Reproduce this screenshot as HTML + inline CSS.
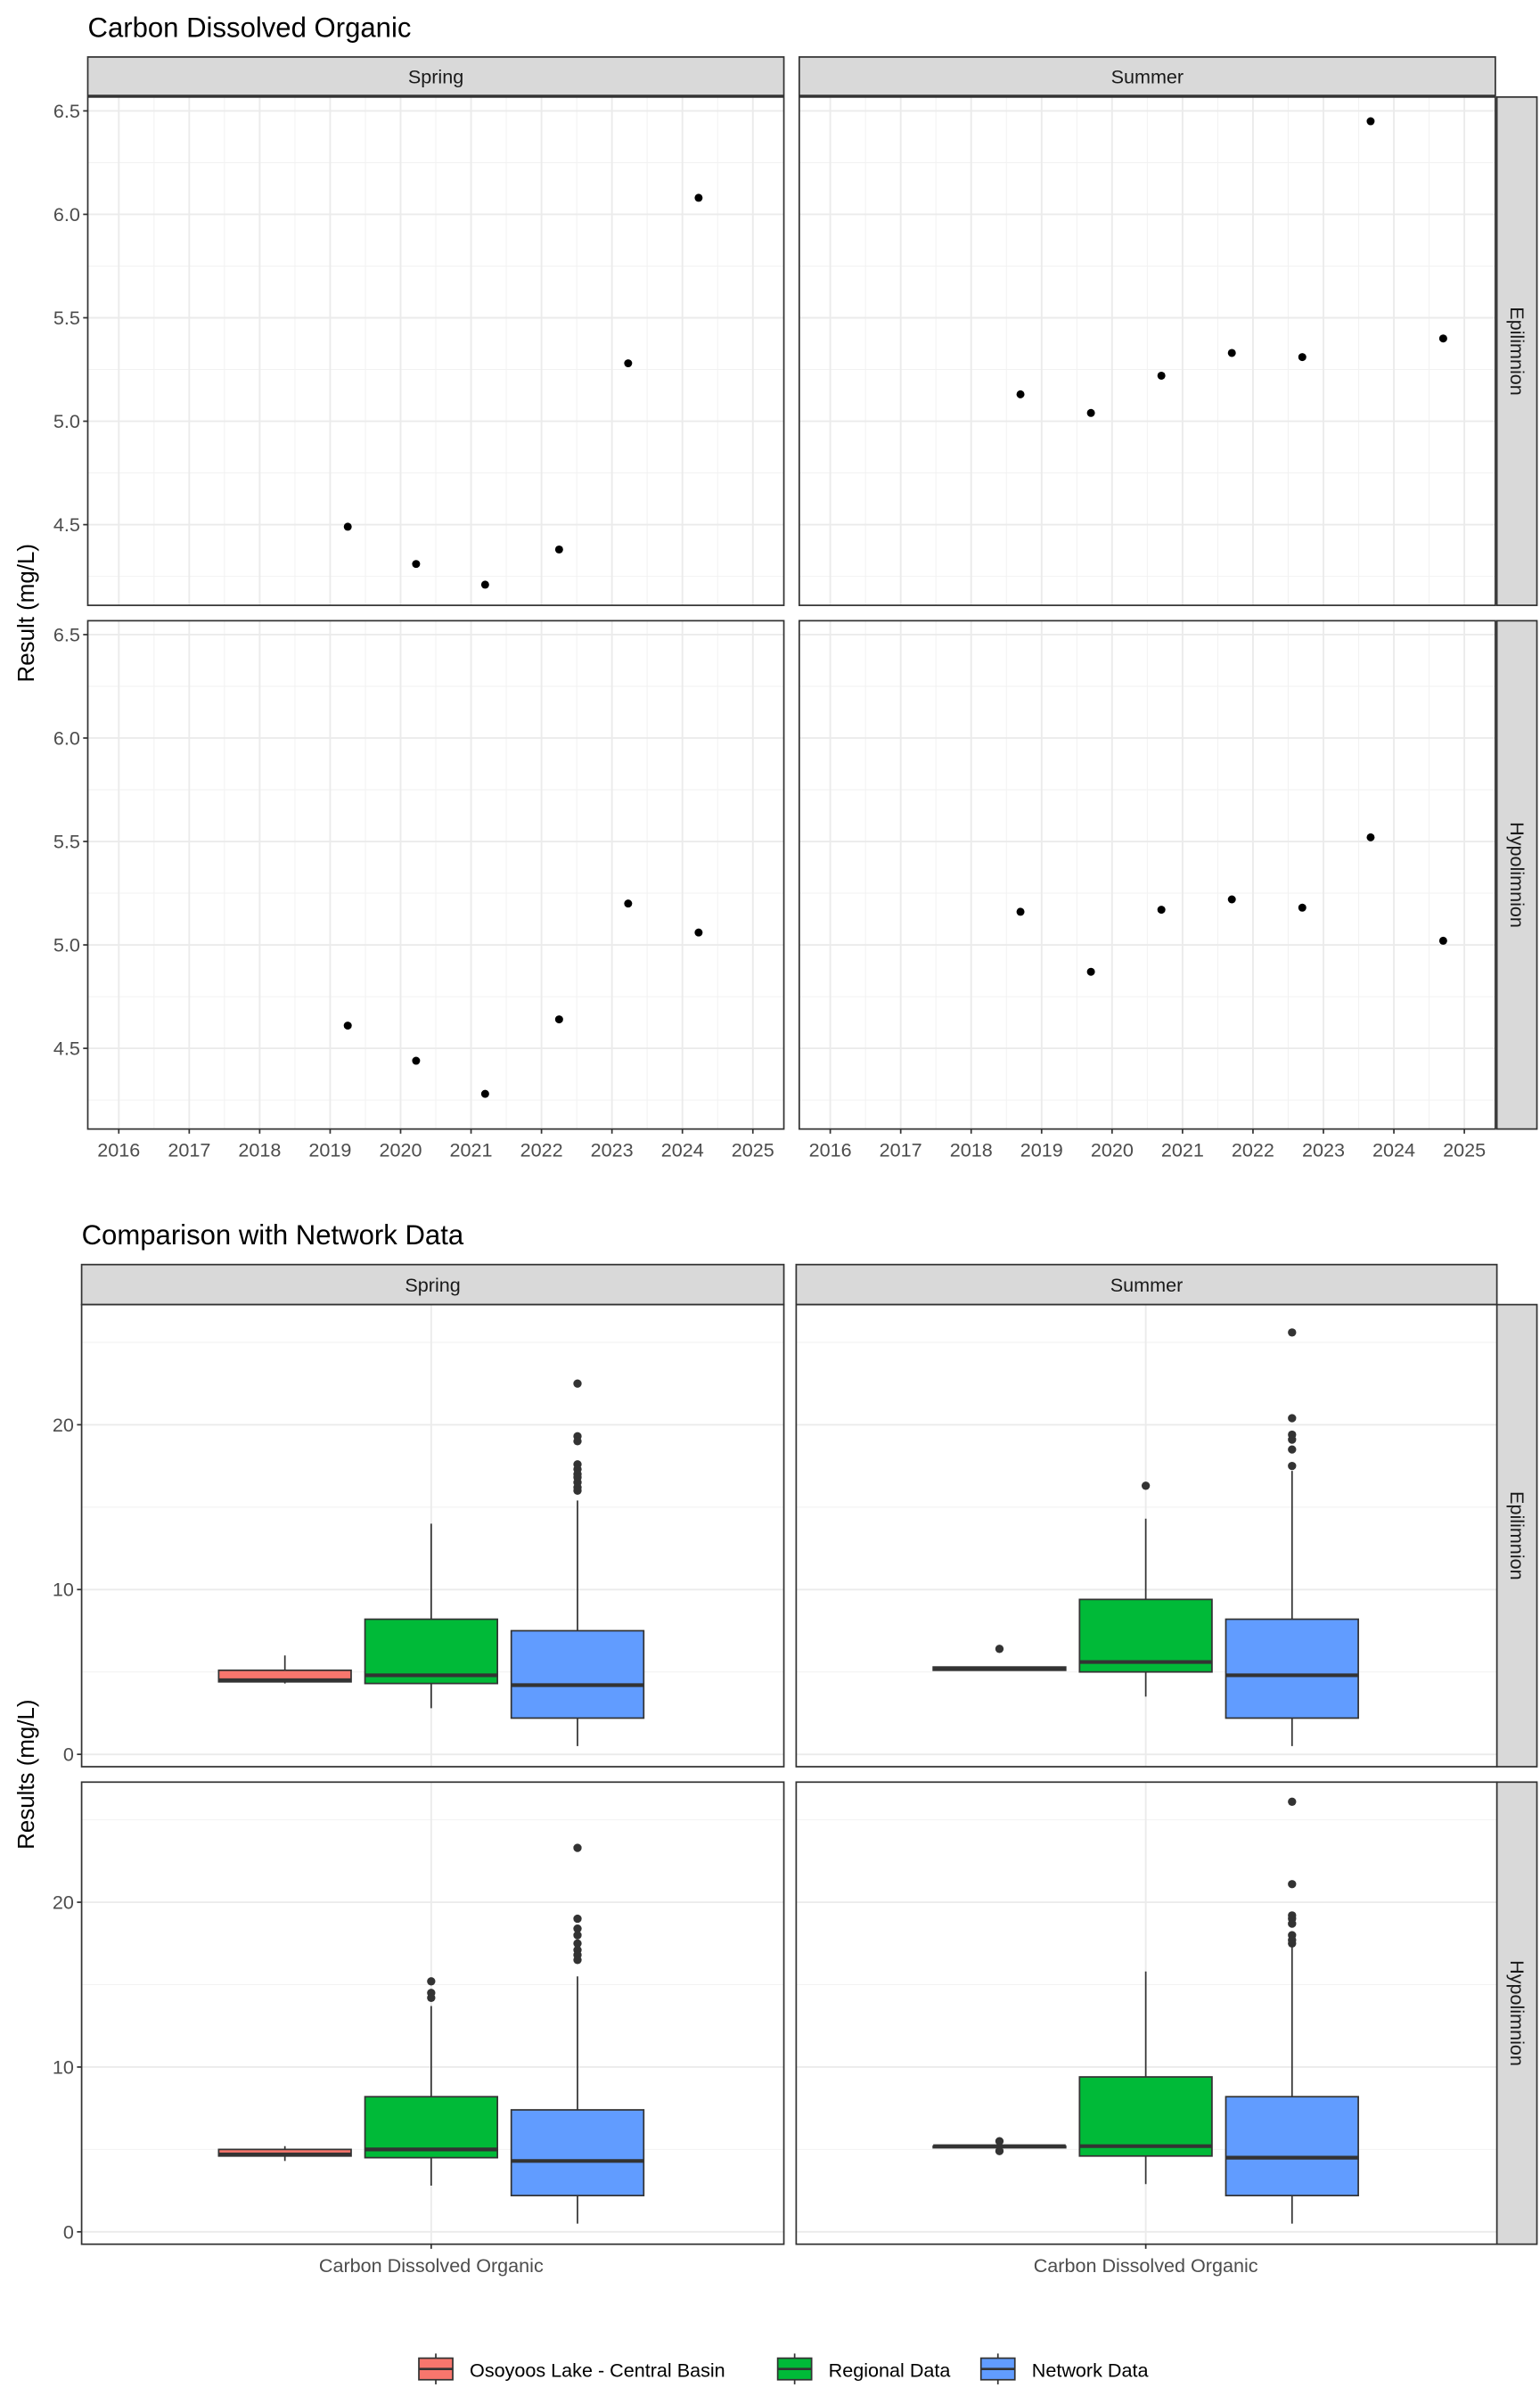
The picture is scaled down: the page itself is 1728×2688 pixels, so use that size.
<!DOCTYPE html>
<html><head><meta charset="utf-8"><style>
html,body{margin:0;padding:0;background:#fff}
svg{display:block;font-family:"Liberation Sans",Arial,sans-serif}
</style></head><body>
<svg id="chart" width="1728" height="2688" viewBox="0 0 1000 1555.56" xmlns="http://www.w3.org/2000/svg"></svg>
<script>
// ---- data: scatter (top) ----
const years = [2016,2017,2018,2019,2020,2021,2022,2023,2024,2025];
const yTicksTop = [4.5,5.0,5.5,6.0,6.5];
const springEpiX = [2019.25,2020.22,2021.2,2022.25,2023.23,2024.23];
const springEpiY = [4.49,4.31,4.21,4.38,5.28,6.08];
const summerEpiX = [2018.7,2019.7,2020.7,2021.7,2022.7,2023.67,2024.7];
const summerEpiY = [5.13,5.04,5.22,5.33,5.31,6.45,5.40];
const springHypX = [2019.25,2020.22,2021.2,2022.25,2023.23,2024.23];
const springHypY = [4.61,4.44,4.28,4.64,5.20,5.06];
const summerHypX = [2018.7,2019.7,2020.7,2021.7,2022.7,2023.67,2024.7];
const summerHypY = [5.16,4.87,5.17,5.22,5.18,5.52,5.02];
// ---- data: boxplots (bottom) [low, q1, median, q3, high] ----
const groups = ["Osoyoos Lake - Central Basin","Regional Data","Network Data"];
const yTicksBot = [0,10,20];
const springEpiBox = [[4.3,4.4,4.5,5.1,6.0],[2.8,4.3,4.8,8.2,14.0],[0.5,2.2,4.2,7.5,15.4]];
const springEpiOut = [[],[],[22.5,19.3,19.0,17.6,17.3,17.0,16.8,16.5,16.2,16.0]];
const summerEpiBox = [[5.1,5.1,5.2,5.3,5.3],[3.5,5.0,5.6,9.4,14.3],[0.5,2.2,4.8,8.2,17.2]];
const summerEpiOut = [[6.4],[16.3],[25.6,20.4,19.4,19.1,18.5,17.5]];
const springHypBox = [[4.3,4.6,4.7,5.0,5.2],[2.8,4.5,5.0,8.2,13.7],[0.5,2.2,4.3,7.4,15.5]];
const springHypOut = [[],[15.2,14.5,14.2],[23.3,19.0,18.4,18.0,17.5,17.1,16.8,16.5]];
const summerHypBox = [[5.1,5.1,5.2,5.2,5.2],[2.9,4.6,5.2,9.4,15.8],[0.5,2.2,4.5,8.2,17.3]];
const summerHypOut = [[5.5,4.9],[],[26.1,21.1,19.2,19.0,18.7,18.0,17.7,17.5]];
const fills = ["#F8766D","#00BA38","#619CFF"];

const svg = document.getElementById('chart');
const NS = "http://www.w3.org/2000/svg";
function el(tag, attrs, parent){const e=document.createElementNS(NS,tag);for(const k in attrs)e.setAttribute(k,attrs[k]);(parent||svg).appendChild(e);return e;}
function txt(s,attrs,parent){const e=el('text',attrs,parent);e.textContent=s;return e;}

// titles
let t;
t=txt("Carbon Dissolved Organic",{x:57,y:24,'font-size':18,fill:'#000'});

t=txt("Comparison with Network Data",{x:53,y:808,'font-size':18,fill:'#000'});

t=txt("Result (mg/L)",{x:0,y:0,'font-size':15,'text-anchor':'middle',transform:'translate(22,398) rotate(-90)'});

t=txt("Results (mg/L)",{x:0,y:0,'font-size':15,'text-anchor':'middle',transform:'translate(22,1152) rotate(-90)'});


function strip(x,y,w,h,label,vertical,name){
  const g=el('g',{});
  
  el('rect',{x:x,y:y,width:w,height:h,fill:'#d9d9d9',stroke:'#333','stroke-width':1},g);
  if(vertical) txt(label,{x:0,y:0,'font-size':12.5,'text-anchor':'middle',fill:'#1a1a1a',transform:`translate(${x+w/2-4},${y+h/2}) rotate(90)`},g);
  else txt(label,{x:x+w/2,y:y+h/2+4.5,'font-size':12.5,'text-anchor':'middle',fill:'#1a1a1a'},g);
}

// ---- top scatter panels ----
const topCols=[{x0:57,x1:509,name:'spring'},{x0:519,x1:971,name:'summer'}];
const topRows=[{y0:63,y1:393,name:'epilimnion'},{y0:403,y1:733,name:'hypolimnion'}];
const yMinT=4.11,yMaxT=6.567, xMinT=2015.56, xMaxT=2025.44;
const topData=[[[springEpiX,springEpiY],[summerEpiX,summerEpiY]],[[springHypX,springHypY],[summerHypX,summerHypY]]];
strip(57,37,452,25,"Spring",false,'top-strip-spring');
strip(519,37,452,25,"Summer",false,'top-strip-summer');
strip(972,63,26,330,"Epilimnion",true,'top-strip-epilimnion');
strip(972,403,26,330,"Hypolimnion",true,'top-strip-hypolimnion');
topRows.forEach((r,ri)=>topCols.forEach((c,ci)=>{
  const sx=v=>c.x0+(v-xMinT)/(xMaxT-xMinT)*(c.x1-c.x0);
  const sy=v=>r.y1-(v-yMinT)/(yMaxT-yMinT)*(r.y1-r.y0);
  const g=el('g',{});
  
  el('rect',{x:c.x0,y:r.y0,width:c.x1-c.x0,height:r.y1-r.y0,fill:'#fff'},g);
  for(let v=4.25;v<=6.5;v+=0.5) if(v>yMinT&&v<yMaxT) el('line',{x1:c.x0,x2:c.x1,y1:sy(v),y2:sy(v),stroke:'#f2f2f2','stroke-width':0.6},g);
  years.forEach(yv=>{const v=yv+0.5;if(v<xMaxT)el('line',{x1:sx(v),x2:sx(v),y1:r.y0,y2:r.y1,stroke:'#f2f2f2','stroke-width':0.6},g);});
  yTicksTop.forEach(v=>el('line',{x1:c.x0,x2:c.x1,y1:sy(v),y2:sy(v),stroke:'#ebebeb','stroke-width':1.1},g));
  years.forEach(v=>el('line',{x1:sx(v),x2:sx(v),y1:r.y0,y2:r.y1,stroke:'#ebebeb','stroke-width':1.1},g));
  const [xs,ys]=topData[ri][ci];
  xs.forEach((xv,i)=>{const p=el('circle',{cx:sx(xv),cy:sy(ys[i]),r:2.6,fill:'#000'},g);
    });
  el('rect',{x:c.x0,y:r.y0,width:c.x1-c.x0,height:r.y1-r.y0,fill:'none',stroke:'#333','stroke-width':1},g);
  if(ci===0){yTicksTop.forEach(v=>{el('line',{x1:c.x0-3,x2:c.x0,y1:sy(v),y2:sy(v),stroke:'#333'},g);
    txt(v.toFixed(1),{x:c.x0-5,y:sy(v)+4.3,'font-size':12.5,'text-anchor':'end',fill:'#4d4d4d'},g);});}
  if(ri===1){years.forEach(v=>{el('line',{x1:sx(v),x2:sx(v),y1:r.y1,y2:r.y1+3,stroke:'#333'},g);
    txt(String(v),{x:sx(v),y:r.y1+18,'font-size':12.5,'text-anchor':'middle',fill:'#4d4d4d'},g);});}
}));

// ---- bottom boxplots ----
const botCols=[{x0:53,x1:509,c:280,name:'spring'},{x0:517,x1:972,c:744,name:'summer'}];
const botRows=[{y0:847,y1:1147,name:'epilimnion'},{y0:1157,y1:1457,name:'hypolimnion'}];
const yMinB=-0.75,yMaxB=27.29, dxB=95, bw=86;
const boxData=[[[springEpiBox,springEpiOut],[summerEpiBox,summerEpiOut]],[[springHypBox,springHypOut],[summerHypBox,summerHypOut]]];
strip(53,821,456,26,"Spring",false,'bottom-strip-spring');
strip(517,821,455,26,"Summer",false,'bottom-strip-summer');
strip(972,847,26,300,"Epilimnion",true,'bottom-strip-epilimnion');
strip(972,1157,26,300,"Hypolimnion",true,'bottom-strip-hypolimnion');
botRows.forEach((r,ri)=>botCols.forEach((c,ci)=>{
  const sy=v=>r.y1-(v-yMinB)/(yMaxB-yMinB)*(r.y1-r.y0);
  const g=el('g',{});
  
  el('rect',{x:c.x0,y:r.y0,width:c.x1-c.x0,height:r.y1-r.y0,fill:'#fff'},g);
  [5,15,25].forEach(v=>el('line',{x1:c.x0,x2:c.x1,y1:sy(v),y2:sy(v),stroke:'#f2f2f2','stroke-width':0.6},g));
  yTicksBot.forEach(v=>el('line',{x1:c.x0,x2:c.x1,y1:sy(v),y2:sy(v),stroke:'#ebebeb','stroke-width':1.1},g));
  el('line',{x1:c.c,x2:c.c,y1:r.y0,y2:r.y1,stroke:'#ebebeb','stroke-width':1.1},g);
  const [boxes,outs]=boxData[ri][ci];
  boxes.forEach((b,i)=>{
    const cx=c.c+(i-1)*dxB;
    const bg=el('g',{},g);
    
    el('line',{x1:cx,x2:cx,y1:sy(b[0]),y2:sy(b[4]),stroke:'#333','stroke-width':1},bg);
    el('rect',{x:cx-bw/2,y:sy(b[3]),width:bw,height:Math.max(sy(b[1])-sy(b[3]),0.5),fill:fills[i],stroke:'#333','stroke-width':1},bg);
    el('line',{x1:cx-bw/2,x2:cx+bw/2,y1:sy(b[2]),y2:sy(b[2]),stroke:'#333','stroke-width':2.4},bg);
    outs[i].forEach(o=>{const p=el('circle',{cx:cx,cy:sy(o),r:2.7,fill:'#333'},bg);
      });
  });
  el('rect',{x:c.x0,y:r.y0,width:c.x1-c.x0,height:r.y1-r.y0,fill:'none',stroke:'#333','stroke-width':1},g);
  if(ci===0){yTicksBot.forEach(v=>{el('line',{x1:c.x0-3,x2:c.x0,y1:sy(v),y2:sy(v),stroke:'#333'},g);
    txt(String(v),{x:c.x0-5,y:sy(v)+4.3,'font-size':12.5,'text-anchor':'end',fill:'#4d4d4d'},g);});}
  if(ri===1){el('line',{x1:c.c,x2:c.c,y1:r.y1,y2:r.y1+3,stroke:'#333'},g);
    txt("Carbon Dissolved Organic",{x:c.c,y:r.y1+18,'font-size':12.5,'text-anchor':'middle',fill:'#4d4d4d'},g);}
}));

// ---- legend ----
const lg=el('g',{});

const legX=[272,505,637];
groups.forEach((gname,i)=>{
  const e=el('g',{},lg);
  
  el('line',{x1:legX[i]+11,x2:legX[i]+11,y1:1528,y2:1548,stroke:'#333','stroke-width':1},e);
  el('rect',{x:legX[i],y:1531,width:22,height:14,fill:fills[i],stroke:'#333','stroke-width':1},e);
  el('line',{x1:legX[i],x2:legX[i]+22,y1:1538,y2:1538,stroke:'#333','stroke-width':1.5},e);
  txt(gname,{x:legX[i]+33,y:1543,'font-size':12.5,fill:'#000'},e);
});
</script>
</body></html>
